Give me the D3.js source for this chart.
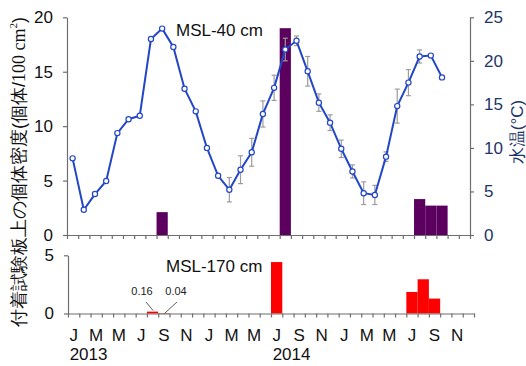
<!DOCTYPE html>
<html><head><meta charset="utf-8">
<script src="https://cdn.jsdelivr.net/npm/d3@7"></script>
<style>
html,body{margin:0;padding:0;background:#fff;}
svg{display:block;}
text{font-family:"Liberation Sans",Arial,sans-serif;}
</style></head>
<body><svg id="chart" width="526" height="366"></svg>
<script>
// ---- data ----
const months = ["2013-01","2013-02","2013-03","2013-04","2013-05","2013-06","2013-07","2013-08","2013-09","2013-10","2013-11","2013-12",
"2014-01","2014-02","2014-03","2014-04","2014-05","2014-06","2014-07","2014-08","2014-09","2014-10","2014-11","2014-12",
"2015-01","2015-02","2015-03","2015-04","2015-05","2015-06","2015-07","2015-08","2015-09","2015-10","2015-11","2015-12"];
const monthLabels = ["J","M","M","J","S","N","J","M","M","J","S","N","J","M","M","J","S","N"];
const labelMonths = ["2013-01","2013-03","2013-05","2013-07","2013-09","2013-11","2014-01","2014-03","2014-05","2014-07","2014-09","2014-11","2015-01","2015-03","2015-05","2015-07","2015-09","2015-11"];
const yearLabels = ["2013","2014"];
const yearLabelMonths = ["2013-01","2014-07"];

// water temperature (°C), Jan 2013 – Oct 2015
const tempMonths = months.slice(0,34);
const tempValues = [8.8,2.9,4.7,6.2,11.7,13.3,13.7,22.5,23.7,21.6,16.8,14.2,
10.0,6.8,5.2,7.5,9.5,13.9,16.9,21.3,22.3,18.8,15.2,12.9,
9.9,7.3,4.8,4.6,9.0,14.8,17.5,20.5,20.6,18.1];
const tempErr = [0,0,0,0,0,0,0,0,0,0,0,0,
0,0,1.4,1.6,1.6,1.5,1.45,1.3,0.55,1.7,1.0,0.9,
1.0,0.75,1.3,1.1,0.55,1.95,1.5,0.75,0,0];

// density (ind./100 cm²) at MSL-40 cm
const msl40Months = ["2013-09","2014-08","2015-08","2015-09","2015-10"];
const msl40Values = [2.1,19.0,3.3,2.7,2.7];
// density at MSL-170 cm
const msl170Months = ["2013-08","2013-09","2014-07","2015-07","2015-08","2015-09"];
const msl170Values = [0.16,0.04,4.42,1.85,2.94,1.28];

const topTicks = [0,5,10,15,20];
const tempTicks = [0,5,10,15,20,25];
const botTicks = [0,5];

// ---- layout ----
const svg = d3.select("#chart");
const axisGrey = "#6e6e6e";
const navy = "#1d3569";
const purple = "#5b005e";
const red = "#ff0000";
const blue = "#2346c6";
const intFmt = d3.format("d");

const xTop = d3.scaleBand().domain(months).range([67,470]).padding(0);
const xBot = d3.scaleBand().domain(months).range([68,474]).padding(0);
const xTopLin = d3.scaleLinear().domain([0,months.length]).range([67,470]);
const xBotLin = d3.scaleLinear().domain([0,months.length]).range([68,474]);
const yTop = d3.scaleLinear().domain([0,20]).range([235,17.3]);
const yTemp = d3.scaleLinear().domain([0,25]).range([235,17.3]);
const yBot = d3.scaleLinear().domain([0,5]).range([313.5,255.3]);

function styleAxis(g, color){
  g.selectAll("path,line").attr("stroke",axisGrey).attr("stroke-width",1.2);
  g.selectAll("text").attr("font-size",17).attr("fill",color||"#111")
    .attr("font-family","'Liberation Sans',Arial,sans-serif");
}

// top panel bars
svg.append("g").selectAll("rect").data(msl40Months.map((m,i)=>({m,v:msl40Values[i]}))).join("rect")
  .attr("x",d=>xTop(d.m)).attr("width",xTop.bandwidth())
  .attr("y",d=>yTop(d.v)).attr("height",d=>yTop(0)-yTop(d.v))
  .attr("fill",purple);

// axes top
const gL = svg.append("g").attr("transform","translate(67,0)")
  .call(d3.axisLeft(yTop).tickValues(topTicks).tickFormat(intFmt).tickSize(4).tickSizeOuter(0).tickPadding(10));
styleAxis(gL);
const gR = svg.append("g").attr("transform","translate(470,0)")
  .call(d3.axisRight(yTemp).tickValues(tempTicks).tickFormat(intFmt).tickSize(4).tickSizeOuter(0).tickPadding(10));
styleAxis(gR, navy);
const gXT = svg.append("g").attr("transform","translate(0,235)")
  .call(d3.axisBottom(xTopLin).tickValues(d3.range(0,months.length+1)).tickFormat("").tickSize(4).tickSizeOuter(0));
styleAxis(gXT);

// error bars
const tdata = tempMonths.map((m,i)=>({m,v:tempValues[i],e:tempErr[i]}));
const eg = svg.append("g").attr("stroke","#9c9c9c").attr("stroke-width",1.2);
tdata.filter(d=>d.e>0).forEach(d=>{
  const cx = xTop(d.m)+xTop.bandwidth()/2;
  eg.append("line").attr("x1",cx).attr("x2",cx).attr("y1",yTemp(d.v+d.e)).attr("y2",yTemp(d.v-d.e));
  eg.append("line").attr("x1",cx-2.5).attr("x2",cx+2.5).attr("y1",yTemp(d.v+d.e)).attr("y2",yTemp(d.v+d.e));
  eg.append("line").attr("x1",cx-2.5).attr("x2",cx+2.5).attr("y1",yTemp(d.v-d.e)).attr("y2",yTemp(d.v-d.e));
});

// temperature line
const line = d3.line().x(d=>xTop(d.m)+xTop.bandwidth()/2).y(d=>yTemp(d.v));
svg.append("path").datum(tdata).attr("d",line).attr("fill","none").attr("stroke",blue).attr("stroke-width",2);
svg.append("g").selectAll("circle").data(tdata).join("circle")
  .attr("cx",d=>xTop(d.m)+xTop.bandwidth()/2).attr("cy",d=>yTemp(d.v)).attr("r",2.6)
  .attr("fill","#fff").attr("stroke",blue).attr("stroke-width",1.2);

svg.append("text").attr("x",176).attr("y",36).attr("font-size",17).attr("fill","#111").text("MSL-40 cm");

// bottom panel
svg.append("g").selectAll("rect").data(msl170Months.map((m,i)=>({m,v:msl170Values[i]}))).join("rect")
  .attr("x",d=>xBot(d.m)).attr("width",xBot.bandwidth())
  .attr("y",d=>yBot(d.v)).attr("height",d=>yBot(0)-yBot(d.v))
  .attr("fill",red);
const gLB = svg.append("g").attr("transform","translate(68,0)")
  .call(d3.axisLeft(yBot).tickValues(botTicks).tickFormat(intFmt).tickSize(4).tickSizeOuter(0).tickPadding(10));
styleAxis(gLB);
const gXB = svg.append("g").attr("transform","translate(0,313.5)")
  .call(d3.axisBottom(xBotLin).tickValues(d3.range(0,months.length+1)).tickFormat("").tickSize(4).tickSizeOuter(0));
styleAxis(gXB);

svg.append("text").attr("x",166).attr("y",272).attr("font-size",17).attr("fill","#111").text("MSL-170 cm");

// small value annotations
const ann = svg.append("g").attr("font-family","'Liberation Serif','Times New Roman',serif").attr("font-size",11).attr("fill","#222");
ann.append("text").attr("x",142).attr("y",295).attr("text-anchor","middle").text(msl170Values[0].toFixed(2));
ann.append("text").attr("x",176).attr("y",295).attr("text-anchor","middle").text(msl170Values[1].toFixed(2));
svg.append("line").attr("x1",146).attr("y1",302).attr("x2",xBot(msl170Months[0])+xBot.bandwidth()*0.55).attr("y2",yBot(msl170Values[0])-1)
  .attr("stroke","#333").attr("stroke-width",0.8);
svg.append("line").attr("x1",177).attr("y1",302).attr("x2",xBot(msl170Months[1])+xBot.bandwidth()*0.55).attr("y2",yBot(0))
  .attr("stroke","#333").attr("stroke-width",0.8);

// month labels
svg.append("g").selectAll("text").data(labelMonths).join("text")
  .attr("x",d=>xBot(d)+xBot.bandwidth()/2).attr("y",340.5).attr("text-anchor","middle")
  .attr("font-size",17).attr("fill","#111").text((d,i)=>monthLabels[i]);
svg.append("g").selectAll("text").data(yearLabelMonths).join("text")
  .attr("x",d=>xBot(d)+xBot.bandwidth()/2-4).attr("y",360)
  .attr("font-size",17).attr("fill","#111").text((d,i)=>yearLabels[i]);

// axis titles
svg.append("text").attr("transform","translate(19,172) rotate(-90)")
  .attr("text-anchor","middle").attr("dominant-baseline","central")
  .attr("font-size",18).attr("fill","#111")
  .attr("font-family","'Noto Sans CJK JP',sans-serif")
  .html('付着試験板上の個体密度(個体/<tspan font-family="Liberation Serif, serif">100 cm</tspan><tspan font-family="Liberation Serif, serif" font-size="11" dy="-6">2</tspan><tspan dy="6">)</tspan>');
svg.append("text").attr("transform","translate(517,132) rotate(-90)")
  .attr("text-anchor","middle").attr("dominant-baseline","central")
  .attr("font-size",17).attr("fill",navy)
  .attr("font-family","'Noto Sans CJK JP',sans-serif")
  .text("水温(°C)");
</script></body></html>
